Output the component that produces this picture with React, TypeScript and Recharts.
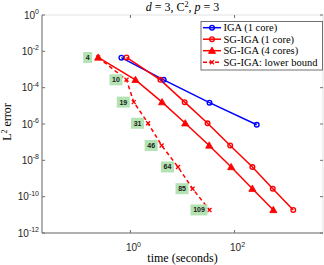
import { LineChart, Line, XAxis, YAxis, CartesianGrid } from 'recharts';

// (time in seconds, L2 error)
const igaTime = [0.67, 4.35, 33, 267];
const igaErr = [4.5e-3, 2.7e-4, 1.5e-5, 9.1e-7];

const sg1Time = [0.84, 3.76, 11.0, 30.3, 82.4, 220, 542, 1343];
const sg4Time = [0.24, 1.25, 4.05, 11.3, 32.6, 86, 220, 556];
const lbTime = [0.24, 0.84, 1.16, 2.18, 3.98, 8.2, 15.6, 33];
const sgErr = [4.6e-3, 2.7e-4, 1.6e-5, 1.1e-6, 6.6e-8, 4.3e-9, 2.75e-10, 1.86e-11];

const lbLabels = ['4', '10', '19', '31', '46', '64', '85', '109'];

const xTicks = [1, 100];
const yTicks = [1, 1e-2, 1e-4, 1e-6, 1e-8, 1e-10, 1e-12];

const zip = (xs: number[], ys: number[]) => xs.map((x, i) => ({ x, y: ys[i] }));

const igaData = zip(igaTime, igaErr);
const sg1Data = zip(sg1Time, sgErr);
const sg4Data = zip(sg4Time, sgErr);
const lbData = zip(lbTime, sgErr);

const BLUE = '#0000ff';
const RED = '#ff0000';
const AXIS = '#707070';
const PLOT = { left: 42, right: 323, top: 15, bottom: 233 };

function Circle({ cx, cy, color }: any) {
  return <circle cx={cx} cy={cy} r={2.3} fill="none" stroke={color} strokeWidth={1.4} />;
}
function Tri({ cx, cy }: any) {
  const s = 3.6;
  return <path d={`M${cx},${cy - s} L${cx + s},${cy + s * 0.75} L${cx - s},${cy + s * 0.75}Z`} fill={RED} stroke={RED} strokeWidth={0.8} />;
}
function Cross({ cx, cy }: any) {
  const s = 2;
  return <path d={`M${cx - s},${cy - s}L${cx + s},${cy + s}M${cx - s},${cy + s}L${cx + s},${cy - s}`} stroke={RED} strokeWidth={1.3} />;
}

const sup = (v: number) => String(Math.round(Math.log10(v)));

function YTick({ x, y, payload }: any) {
  return (
    <g>
      <line x1={PLOT.left} x2={PLOT.left + 3} y1={y} y2={y} stroke={AXIS} />
      <line x1={PLOT.right - 3} x2={PLOT.right} y1={y} y2={y} stroke={AXIS} />
      <text x={x} y={y + 3.5} textAnchor="end" fontFamily="Liberation Sans, Arial" fontSize={10} fill="#262626">
        10<tspan dy={-4.5} fontSize={7}>{sup(payload.value)}</tspan>
      </text>
    </g>
  );
}

function XTick({ x, y, payload }: any) {
  return (
    <g>
      <line x1={x} x2={x} y1={PLOT.bottom} y2={PLOT.bottom - 3} stroke={AXIS} />
      <line x1={x} x2={x} y1={PLOT.top} y2={PLOT.top + 3} stroke={AXIS} />
      <text x={x + 3} y={y + 18} textAnchor="middle" fontFamily="Liberation Sans, Arial" fontSize={10} fill="#262626">
        10<tspan dy={-4.5} fontSize={7}>{sup(payload.value)}</tspan>
      </text>
    </g>
  );
}

function LbLabel({ x, y, index }: any) {
  const t = lbLabels[index];
  const w = 5 + t.length * 4;
  const cx = x - 10.5;
  return (
    <g>
      <rect x={cx - w / 2} y={y - 5.5} width={w} height={11} fill="#b3e2b3" />
      <text x={cx} y={y + 2.5} textAnchor="middle" fontFamily="Liberation Sans, Arial" fontWeight="bold" fontSize={7} fill="#1a1a1a">{t}</text>
    </g>
  );
}

const legendItems = [
  { name: 'IGA (1 core)', color: BLUE, mark: 'o', dash: undefined },
  { name: 'SG-IGA (1 core)', color: RED, mark: 'o', dash: undefined },
  { name: 'SG-IGA (4 cores)', color: RED, mark: '^', dash: undefined },
  { name: 'SG-IGA: lower bound', color: RED, mark: 'x', dash: '4 2' },
];

export default function App() {
  const serif = 'Liberation Serif, Times New Roman, serif';
  return (
    <div style={{ position: 'absolute', left: 0, top: 0, width: 324, height: 265, background: '#fff' }}>
      <LineChart width={324} height={265} margin={{ top: PLOT.top, right: 324 - PLOT.right, left: 0, bottom: 0 }}>
        <CartesianGrid stroke="#e2e2e2" strokeWidth={1} />
        <XAxis
          xAxisId="b"
          dataKey="x"
          type="number"
          scale="log"
          domain={[0.02, 5000]}
          allowDataOverflow
          ticks={xTicks}
          height={32}
          tickSize={0}
          tickMargin={0}
          stroke={AXIS}
          tick={<XTick />}
        />
        <XAxis xAxisId="t" orientation="top" dataKey="x" type="number" scale="log" domain={[0.02, 5000]} height={0} tick={false} stroke={AXIS} />
        <YAxis
          yAxisId="l"
          type="number"
          scale="log"
          domain={[1e-12, 1]}
          allowDataOverflow
          ticks={yTicks}
          width={PLOT.left}
          tickSize={0}
          tickMargin={3}
          stroke={AXIS}
          tick={<YTick />}
        />
        <YAxis yAxisId="r" orientation="right" type="number" scale="log" domain={[1e-12, 1]} width={0} tick={false} stroke={AXIS} />
        <Line xAxisId="b" yAxisId="l" data={igaData} dataKey="y" stroke={BLUE} strokeWidth={1.5} isAnimationActive={false}
          dot={(p: any) => <Circle key={p.index} cx={p.cx} cy={p.cy} color={BLUE} />} />
        <Line xAxisId="b" yAxisId="l" data={sg1Data} dataKey="y" stroke={RED} strokeWidth={1.5} isAnimationActive={false}
          dot={(p: any) => <Circle key={p.index} cx={p.cx} cy={p.cy} color={RED} />} />
        <Line xAxisId="b" yAxisId="l" data={sg4Data} dataKey="y" stroke={RED} strokeWidth={1.5} isAnimationActive={false}
          dot={(p: any) => <Tri key={p.index} cx={p.cx} cy={p.cy} />} />
        <Line xAxisId="b" yAxisId="l" data={lbData} dataKey="y" stroke={RED} strokeWidth={1.5} strokeDasharray="4 3" isAnimationActive={false}
          dot={(p: any) => <Cross key={p.index} cx={p.cx} cy={p.cy} />}
          label={(p: any) => <LbLabel key={p.index} x={p.x} y={p.y} index={p.index} />} />
      </LineChart>

      <svg width={324} height={265} style={{ position: 'absolute', left: 0, top: 0, pointerEvents: 'none' }}>
        <text x={182.5} y={11} textAnchor="middle" fontFamily={serif} fontSize={12} fill="#000">
          <tspan fontStyle="italic">d</tspan> = 3, C<tspan dy={-4} fontSize={8}>2</tspan><tspan dy={4}>, </tspan><tspan fontStyle="italic">p</tspan> = 3
        </text>
        <text x={182.5} y={262} textAnchor="middle" fontFamily={serif} fontSize={12} fill="#000">time (seconds)</text>
        <text transform="translate(11,122) rotate(-90)" textAnchor="middle" fontFamily={serif} fontSize={12} fill="#000">
          L<tspan dy={-4} fontSize={8}>2</tspan><tspan dy={4}> error</tspan>
        </text>

        <rect x={201} y={21.5} width={121.5} height={48.5} fill="#fff" stroke={AXIS} strokeWidth={1} />
        {legendItems.map((it, i) => {
          const y = 27.7 + i * 11.5;
          const cx = 212;
          return (
            <g key={it.name}>
              <line x1={203} x2={221} y1={y} y2={y} stroke={it.color} strokeWidth={1.5} strokeDasharray={it.dash} />
              {it.mark === 'o' && <Circle cx={cx} cy={y} color={it.color} />}
              {it.mark === '^' && <Tri cx={cx} cy={y} />}
              {it.mark === 'x' && <Cross cx={cx} cy={y} />}
              <text x={223.5} y={y + 3.5} fontFamily={serif} fontSize={10.5} fill="#000">{it.name}</text>
            </g>
          );
        })}
      </svg>
    </div>
  );
}
